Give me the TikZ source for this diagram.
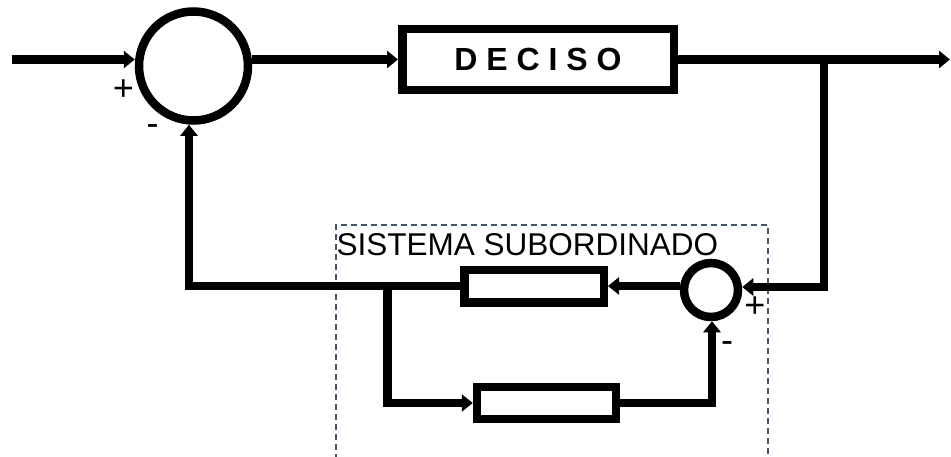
\documentclass[tikz,border=0pt]{standalone}
\usepackage{fontspec}
\setmainfont{Liberation Sans}
\usetikzlibrary{arrows.meta}
\definecolor{dashc}{HTML}{44546A}
\begin{document}
\begin{tikzpicture}[x=1pt,y=-1pt,
  arr/.style={line width=8.5pt,-{Triangle[length=11pt,width=17pt]}},
  sumnode/.style={circle,draw,line width=8.5pt,inner sep=0pt},
  blk/.style={rectangle,draw,line width=8.5pt,inner sep=0pt},
  sign/.style={inner sep=0pt,font=\fontsize{36}{42}\selectfont},
  frame/.style={draw=dashc,line width=1.3pt,dash pattern=on 6pt off 4pt}]
\useasboundingbox (0,0) rectangle (951,456);
% dashed subsystem frame
\draw[frame] (336,470) -- (336,225) -- (768,225) -- (768,470);
\node[anchor=base west,inner sep=0pt,font=\fontsize{31.5}{37}\selectfont] (lbl) at (336.5,255.5) {SISTEMA SUBORDINADO};
% main loop
\node[sumnode,minimum size=109pt] (sum) at (193.5,66) {};
\node[blk,minimum width=271.5pt,minimum height=61pt,font=\bfseries\fontsize{32}{38}\selectfont] (dec) at (538,59.5) {D E C I S O};
\node[sumnode,minimum size=54pt] (sum2) at (711,290) {};
\node[blk,minimum width=139.5pt,minimum height=32.5pt] (b1) at (534,286) {};
\node[blk,minimum width=139pt,minimum height=32pt] (b2) at (546.5,403) {};
\coordinate (in) at (12,59.5);
\coordinate (out) at (950,59.5);
\coordinate (j) at (824,59.5);
\coordinate (k) at (824,287);
\coordinate (fb) at (189,286);
\coordinate (br) at (387.5,286);
\coordinate (br2) at (387.5,403);
\coordinate (c) at (712,403);
\draw[arr] (in) -- (in -| sum.west);
\draw[arr] (sum.east |- dec) -- (dec.west);
\draw[arr] (dec.east) -- (out);
\draw[arr] (j) -- (k) -- (k -| sum2.east);
\draw[arr] (sum2.west |- b1) -- (b1.east);
\draw[arr] (b1.west) -- (fb) -- (fb |- sum.south);
\draw[arr] (br) -- (br2) -- (b2.west);
\draw[arr] (b2.east) -- (c) -- (c |- sum2.south);
% signs
\node[sign] (p1) at (123.5,90.5) {+};
\node[sign] (m1) at (152.5,130) {-};
\node[sign] (p2) at (755,307) {+};
\node[sign] (m2) at (727,347) {-};
\end{tikzpicture}
\end{document}
